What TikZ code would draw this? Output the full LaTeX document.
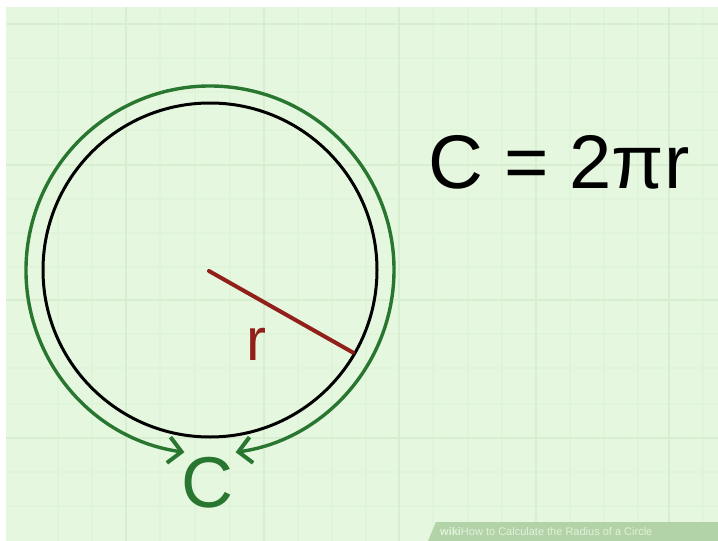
\documentclass[tikz,border=0pt]{standalone}
\usepackage{fontspec}
\newfontfamily\lsans{Liberation Sans}
\usetikzlibrary{arrows.meta,calc}
\definecolor{bg}{RGB}{229,248,223}
\definecolor{gridmaj}{RGB}{216,238,209}
\definecolor{gridmin}{RGB}{224,244,217}
\definecolor{arcgreen}{RGB}{40,118,48}
\definecolor{radred}{RGB}{145,32,26}
\definecolor{wmbar}{RGB}{178,210,168}
\definecolor{wmtext}{RGB}{225,242,218}
\tikzset{
  majline/.style={gridmaj,line width=2.2pt},
  minline/.style={gridmin,line width=1.2pt},
  circline/.style={black,line width=3pt},
  arcline/.style={arcgreen,line width=3.4pt,
    {Straight Barb[length=13pt,width=26pt,line width=4pt]}-{Straight Barb[length=13pt,width=26pt,line width=4pt]}},
  radline/.style={radred,line width=4pt,line cap=round},
  bigtext/.style={inner sep=0pt,font=\lsans\fontsize{76}{80}\selectfont},
}
\begin{document}
\begin{tikzpicture}[x=1pt,y=-1pt]
\useasboundingbox (0,0) rectangle (718,541);
\fill[white] (0,0) rectangle (718,541);
\fill[bg] (6,7) rectangle (718,541);
% minor grid
\foreach \x in {58,92,160,195,230,298,332,366,433,468,502,570,604,638,703}
  \draw[minline] (\x,7) -- (\x,541);
\foreach \y in {58,92,130,199,233,267,334,368,404,472,506}
  \draw[minline] (6,\y) -- (718,\y);
% major grid
\foreach \x in {126,264,399,536,669}
  \draw[majline] (\x,7) -- (\x,541);
\foreach \y in {24,165,300,438}
  \draw[majline] (6,\y) -- (718,\y);
% circle
\coordinate (O) at (210,270);
\draw[circline] (O) circle[radius=167];
% green arc with arrows
\draw[arcline] ($(O)+(98:184)$) arc[start angle=98,end angle=442,radius=184];
% radius
\coordinate (R) at ($(O)+(30:165)$);
\draw[radline] ($(O)+(-1,1)$) -- (R);
\node[anchor=base,inner sep=0pt,text=radred,font=\lsans\fontsize{60}{64}\selectfont] (rlab) at (256,360) {r};
% C label
\node[anchor=base,inner sep=0pt,text=arcgreen,font=\lsans\fontsize{72}{76}\selectfont] (clab) at (207,507) {C};
% formula
\node[bigtext,anchor=base west] (formula) at (428,188) {C = 2πr};
% watermark bar
\fill[wmbar] (428,541) -- (436,522) -- (718,522) -- (718,541) -- cycle;
\node[anchor=west,inner sep=0pt,text=wmtext,font=\lsans\fontsize{11}{12}\selectfont] (wm) at (440,532) {\textbf{wiki}How to Calculate the Radius of a Circle};
\end{tikzpicture}
\end{document}
